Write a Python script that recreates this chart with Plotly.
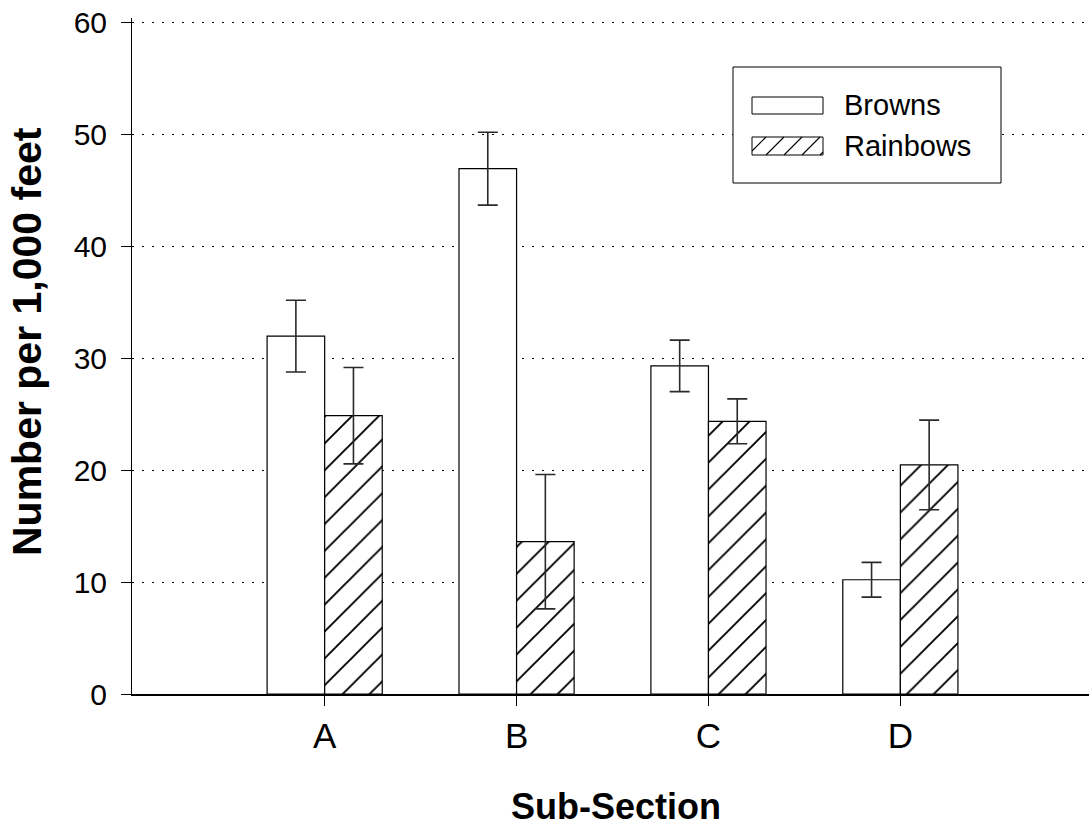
import plotly.graph_objects as go

# ---- data ----
categories = ["A", "B", "C", "D"]
browns = [31.95, 46.9, 29.3, 10.2]
browns_err = [3.2, 3.25, 2.3, 1.55]
rainbows = [24.85, 13.6, 24.35, 20.45]
rainbows_err = [4.3, 6.0, 2.0, 4.0]
series_names = ["Browns", "Rainbows"]
y_ticks = [0, 10, 20, 30, 40, 50, 60]

W, H = 1089, 827
L, R, T, B = 132, 0, 18, 133
FONT = "Liberation Sans, Arial, sans-serif"
Y_TOP = (H - T - B) / 11.2  # keeps 60 at the same pixel row, with its gridline visible


def px(x):
    return (x - L) / (W - L - R)


def py(y):
    return (H - B - y) / (H - T - B)


fig = go.Figure()
fig.add_trace(go.Bar(
    x=categories, y=browns, name=series_names[0],
    marker=dict(color="white", line=dict(color="black", width=1.2)),
    error_y=dict(type="data", array=browns_err, color="#2a2a2a", thickness=1.6, width=10),
    showlegend=False,
))
fig.add_trace(go.Bar(
    x=categories, y=rainbows, name=series_names[1],
    marker=dict(color="white", line=dict(color="black", width=1.2),
                pattern=dict(shape="/", fillmode="replace", fgcolor="#000000", fgopacity=1,
                             bgcolor="white", size=19, solidity=0.1)),
    error_y=dict(type="data", array=rainbows_err, color="#2a2a2a", thickness=1.6, width=10),
    showlegend=False,
))

# ---- custom legend (box, swatches, labels) ----
shapes = []
shapes.append(dict(type="rect", xref="paper", yref="paper",
                   x0=px(733), x1=px(1001), y0=py(183), y1=py(67),
                   line=dict(color="black", width=1), fillcolor="white", layer="above"))
shapes.append(dict(type="rect", xref="paper", yref="paper",
                   x0=px(752), x1=px(823), y0=py(114), y1=py(97),
                   line=dict(color="black", width=1), fillcolor="white", layer="above"))
shapes.append(dict(type="rect", xref="paper", yref="paper",
                   x0=px(752), x1=px(823), y0=py(155), y1=py(137),
                   line=dict(color="black", width=1), fillcolor="white", layer="above"))
# hatch lines inside the Rainbows swatch
sx0, sx1, sy0, sy1 = 752, 823, 137, 155
hh = sy1 - sy0
for xb in range(sx0 - 4, sx1, 18):
    x_start, y_start = xb, sy1
    x_end, y_end = xb + hh, sy0
    if x_start < sx0:
        d = sx0 - x_start
        x_start, y_start = sx0, sy1 - d
    if x_end > sx1:
        d = x_end - sx1
        x_end, y_end = sx1, sy0 + d
    if x_end <= x_start:
        continue
    shapes.append(dict(type="line", xref="paper", yref="paper",
                       x0=px(x_start), y0=py(y_start), x1=px(x_end), y1=py(y_end),
                       line=dict(color="black", width=1.1), layer="above"))

annotations = [
    dict(text=series_names[0], x=px(842), y=py(105.5), xref="paper", yref="paper",
         xanchor="left", yanchor="middle", showarrow=False,
         font=dict(family=FONT, size=29, color="black")),
    dict(text=series_names[1], x=px(842), y=py(146), xref="paper", yref="paper",
         xanchor="left", yanchor="middle", showarrow=False,
         font=dict(family=FONT, size=29, color="black")),
    dict(text="<b>Number per 1,000 feet</b>", x=px(27), y=py(342), xref="paper", yref="paper",
         xanchor="center", yanchor="middle", textangle=-90, showarrow=False,
         font=dict(family=FONT, size=41, color="black")),
    dict(text="<b>Sub-Section</b>", x=px(616), y=py(806), xref="paper", yref="paper",
         xanchor="center", yanchor="middle", showarrow=False,
         font=dict(family=FONT, size=36, color="black")),
]

fig.update_layout(
    width=W, height=H,
    margin=dict(l=L, r=R, t=T, b=B, pad=0),
    paper_bgcolor="white", plot_bgcolor="white",
    barmode="group", bargap=0.4, bargroupgap=0,
    shapes=shapes, annotations=annotations,
    font=dict(family=FONT, color="black"),
)
fig.update_xaxes(
    range=[-1.004, 3.983], showgrid=False, zeroline=False,
    showline=True, linecolor="black", linewidth=1.5,
    ticks="outside", ticklen=10, tickcolor="black", tickwidth=1,
    tickfont=dict(family=FONT, size=35, color="black"),
)
fig.update_yaxes(
    range=[0, Y_TOP], tickvals=y_ticks, zeroline=False,
    showline=True, linecolor="black", linewidth=1,
    ticks="outside", ticklen=10, tickcolor="black", tickwidth=1,
    tickfont=dict(family=FONT, size=30, color="black"),
    ticklabelstandoff=8,
    showgrid=True, gridcolor="black", gridwidth=1, griddash="2px,8px",
)

fig.write_html(
    "out.html",
    config={"displayModeBar": False},
    post_script="document.body.style.margin='0';document.body.style.padding='0';",
)
